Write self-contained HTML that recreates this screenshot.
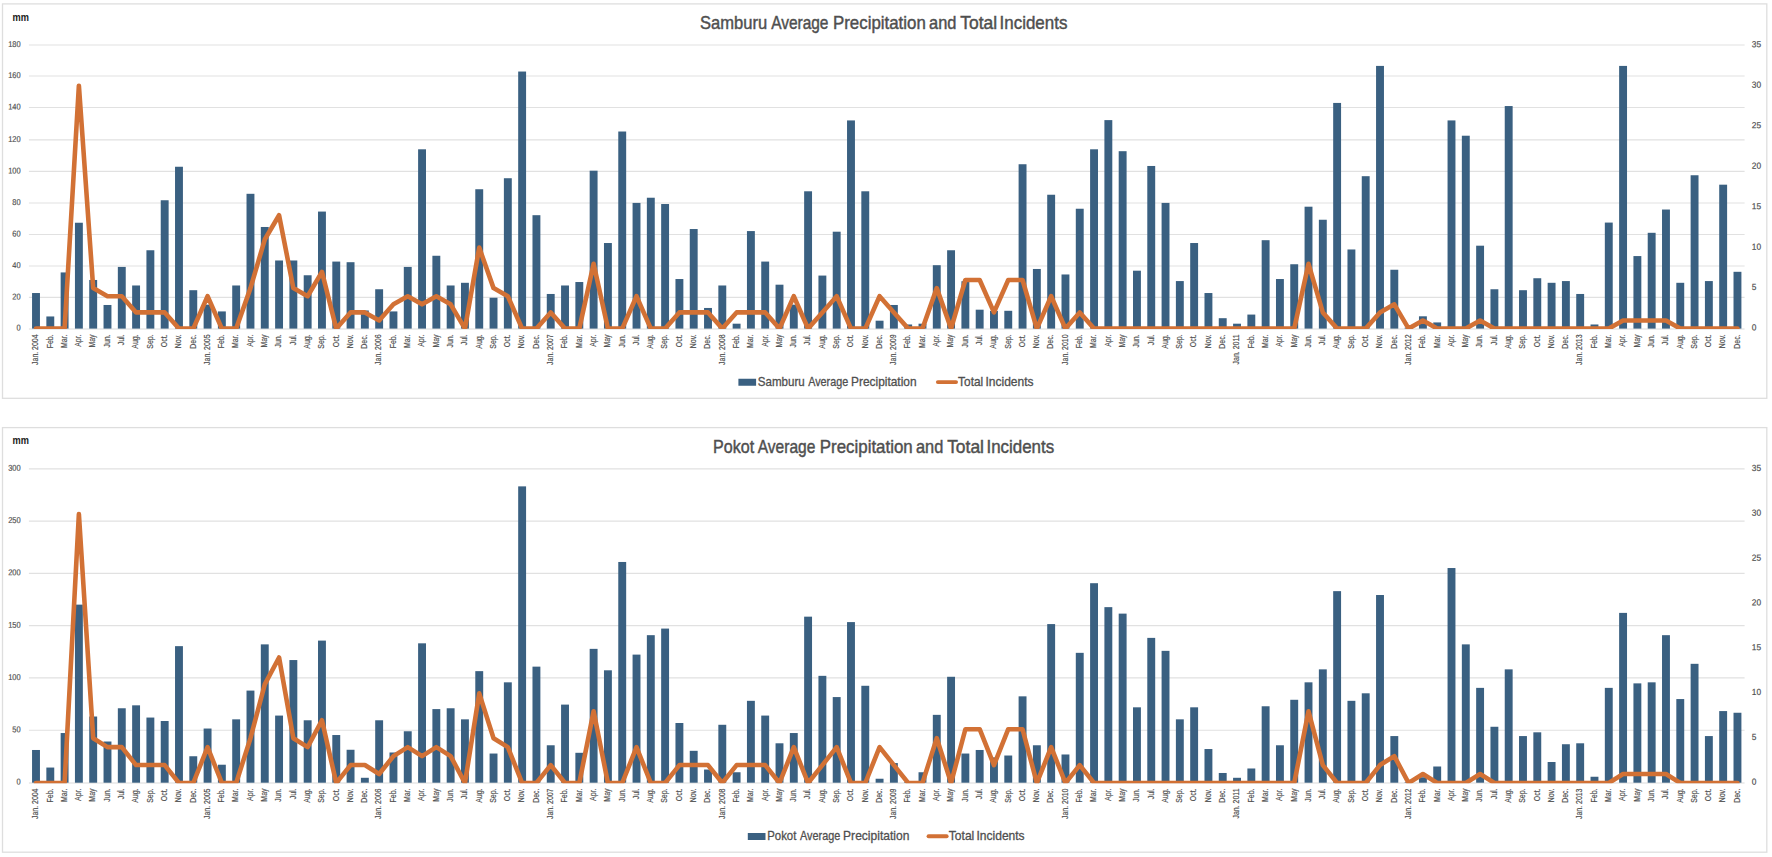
<!DOCTYPE html>
<html lang="en"><head><meta charset="utf-8"><title>Average Precipitation and Total Incidents</title>
<style>
html,body{margin:0;padding:0;background:#fff;}
body{width:1772px;height:857px;overflow:hidden;}
svg{display:block;font-family:"Liberation Sans",Arial,sans-serif;}
.b rect{fill:#3a6081;}
.ax{font-size:8.4px;fill:#4f4f4f;stroke:#4f4f4f;stroke-width:.18px;}
.ar{font-size:8.8px;}
.mm{font-size:10.3px;font-weight:bold;fill:#1a1a1a;}
.title{font-size:18.4px;fill:#4f4f4f;stroke:#4f4f4f;stroke-width:.45px;}
.leg{font-size:12.6px;fill:#4f4f4f;stroke:#4f4f4f;stroke-width:.3px;}
</style></head><body>
<svg width="1772" height="857" viewBox="0 0 1772 857">
<rect x="0" y="0" width="1772" height="857" fill="#fff"/>
<rect x="2.5" y="3.9" width="1764.3" height="394.40000000000003" fill="#fff" stroke="#dedede" stroke-width="1.3"/>
<line x1="28.9" x2="1744.6" y1="329.00" y2="329.00" stroke="#dcdcdc" stroke-width="1.15"/>
<text transform="translate(20.65,330.50) rotate(0.03) scale(0.89,1)" text-anchor="end" class="ax">0</text>
<line x1="28.9" x2="1744.6" y1="297.40" y2="297.40" stroke="#e1e1e1" stroke-width="1.15"/>
<text transform="translate(20.65,299.40) rotate(0.03) scale(0.89,1)" text-anchor="end" class="ax">20</text>
<line x1="28.9" x2="1744.6" y1="266.00" y2="266.00" stroke="#e1e1e1" stroke-width="1.15"/>
<text transform="translate(20.65,268.00) rotate(0.03) scale(0.89,1)" text-anchor="end" class="ax">40</text>
<line x1="28.9" x2="1744.6" y1="234.50" y2="234.50" stroke="#e1e1e1" stroke-width="1.15"/>
<text transform="translate(20.65,236.50) rotate(0.03) scale(0.89,1)" text-anchor="end" class="ax">60</text>
<line x1="28.9" x2="1744.6" y1="203.00" y2="203.00" stroke="#e1e1e1" stroke-width="1.15"/>
<text transform="translate(20.65,205.00) rotate(0.03) scale(0.89,1)" text-anchor="end" class="ax">80</text>
<line x1="28.9" x2="1744.6" y1="171.40" y2="171.40" stroke="#e1e1e1" stroke-width="1.15"/>
<text transform="translate(20.65,173.40) rotate(0.03) scale(0.89,1)" text-anchor="end" class="ax">100</text>
<line x1="28.9" x2="1744.6" y1="139.90" y2="139.90" stroke="#e1e1e1" stroke-width="1.15"/>
<text transform="translate(20.65,141.90) rotate(0.03) scale(0.89,1)" text-anchor="end" class="ax">120</text>
<line x1="28.9" x2="1744.6" y1="107.50" y2="107.50" stroke="#e1e1e1" stroke-width="1.15"/>
<text transform="translate(20.65,109.50) rotate(0.03) scale(0.89,1)" text-anchor="end" class="ax">140</text>
<line x1="28.9" x2="1744.6" y1="76.00" y2="76.00" stroke="#e1e1e1" stroke-width="1.15"/>
<text transform="translate(20.65,78.00) rotate(0.03) scale(0.89,1)" text-anchor="end" class="ax">160</text>
<line x1="28.9" x2="1744.6" y1="45.00" y2="45.00" stroke="#e1e1e1" stroke-width="1.15"/>
<text transform="translate(20.65,47.00) rotate(0.03) scale(0.89,1)" text-anchor="end" class="ax">180</text>
<text transform="translate(1751.8,330.60) rotate(0.03) scale(0.95,1)" class="ax ar">0</text>
<text transform="translate(1751.8,290.11) rotate(0.03) scale(0.95,1)" class="ax ar">5</text>
<text transform="translate(1751.8,249.63) rotate(0.03) scale(0.95,1)" class="ax ar">10</text>
<text transform="translate(1751.8,209.14) rotate(0.03) scale(0.95,1)" class="ax ar">15</text>
<text transform="translate(1751.8,168.66) rotate(0.03) scale(0.95,1)" class="ax ar">20</text>
<text transform="translate(1751.8,128.17) rotate(0.03) scale(0.95,1)" class="ax ar">25</text>
<text transform="translate(1751.8,87.69) rotate(0.03) scale(0.95,1)" class="ax ar">30</text>
<text transform="translate(1751.8,47.20) rotate(0.03) scale(0.95,1)" class="ax ar">35</text>
<text x="12.6" y="20.60" class="mm" textLength="16.4" lengthAdjust="spacingAndGlyphs">mm</text>
<text y="29.3" class="title"><tspan x="700.02" textLength="67.15" lengthAdjust="spacingAndGlyphs">Samburu</tspan> <tspan x="771.15" textLength="57.32" lengthAdjust="spacingAndGlyphs">Average</tspan> <tspan x="833.00" textLength="92.81" lengthAdjust="spacingAndGlyphs">Precipitation</tspan> <tspan x="929.09" textLength="27.38" lengthAdjust="spacingAndGlyphs">and</tspan> <tspan x="960.30" textLength="36.84" lengthAdjust="spacingAndGlyphs">Total</tspan> <tspan x="999.52" textLength="67.88" lengthAdjust="spacingAndGlyphs">Incidents</tspan></text>
<g class="b">
<rect x="32.05" y="293.03" width="7.9" height="35.57"/>
<rect x="46.35" y="316.46" width="7.9" height="12.14"/>
<rect x="60.65" y="272.43" width="7.9" height="56.17"/>
<rect x="74.94" y="222.74" width="7.9" height="105.86"/>
<rect x="89.24" y="279.97" width="7.9" height="48.63"/>
<rect x="103.54" y="304.98" width="7.9" height="23.62"/>
<rect x="117.84" y="266.92" width="7.9" height="61.68"/>
<rect x="132.14" y="285.48" width="7.9" height="43.12"/>
<rect x="146.43" y="250.25" width="7.9" height="78.35"/>
<rect x="160.73" y="200.25" width="7.9" height="128.35"/>
<rect x="175.03" y="166.75" width="7.9" height="161.85"/>
<rect x="189.33" y="290.20" width="7.9" height="38.40"/>
<rect x="203.63" y="304.66" width="7.9" height="23.94"/>
<rect x="217.92" y="311.42" width="7.9" height="17.18"/>
<rect x="232.22" y="285.48" width="7.9" height="43.12"/>
<rect x="246.52" y="193.80" width="7.9" height="134.80"/>
<rect x="260.82" y="226.98" width="7.9" height="101.62"/>
<rect x="275.12" y="260.48" width="7.9" height="68.12"/>
<rect x="289.41" y="260.48" width="7.9" height="68.12"/>
<rect x="303.71" y="275.26" width="7.9" height="53.34"/>
<rect x="318.01" y="211.57" width="7.9" height="117.03"/>
<rect x="332.31" y="261.58" width="7.9" height="67.02"/>
<rect x="346.61" y="262.20" width="7.9" height="66.39"/>
<rect x="360.90" y="310.48" width="7.9" height="18.12"/>
<rect x="375.20" y="289.25" width="7.9" height="39.35"/>
<rect x="389.50" y="311.42" width="7.9" height="17.18"/>
<rect x="403.80" y="266.92" width="7.9" height="61.68"/>
<rect x="418.10" y="149.30" width="7.9" height="179.30"/>
<rect x="432.39" y="255.76" width="7.9" height="72.84"/>
<rect x="446.69" y="285.48" width="7.9" height="43.12"/>
<rect x="460.99" y="282.80" width="7.9" height="45.80"/>
<rect x="475.29" y="189.24" width="7.9" height="139.36"/>
<rect x="489.59" y="297.74" width="7.9" height="30.86"/>
<rect x="503.88" y="178.23" width="7.9" height="150.37"/>
<rect x="518.18" y="71.54" width="7.9" height="257.06"/>
<rect x="532.48" y="215.19" width="7.9" height="113.41"/>
<rect x="546.78" y="293.97" width="7.9" height="34.63"/>
<rect x="561.08" y="285.48" width="7.9" height="43.12"/>
<rect x="575.37" y="282.02" width="7.9" height="46.58"/>
<rect x="589.67" y="170.69" width="7.9" height="157.91"/>
<rect x="603.97" y="243.02" width="7.9" height="85.58"/>
<rect x="618.27" y="131.51" width="7.9" height="197.09"/>
<rect x="632.57" y="202.92" width="7.9" height="125.68"/>
<rect x="646.86" y="197.73" width="7.9" height="130.87"/>
<rect x="661.16" y="204.02" width="7.9" height="124.58"/>
<rect x="675.46" y="279.03" width="7.9" height="49.57"/>
<rect x="689.76" y="229.03" width="7.9" height="99.57"/>
<rect x="704.06" y="307.96" width="7.9" height="20.64"/>
<rect x="718.35" y="285.48" width="7.9" height="43.12"/>
<rect x="732.65" y="323.69" width="7.9" height="4.91"/>
<rect x="746.95" y="231.07" width="7.9" height="97.53"/>
<rect x="761.25" y="261.58" width="7.9" height="67.02"/>
<rect x="775.55" y="284.69" width="7.9" height="43.91"/>
<rect x="789.84" y="304.66" width="7.9" height="23.94"/>
<rect x="804.14" y="191.29" width="7.9" height="137.31"/>
<rect x="818.44" y="275.57" width="7.9" height="53.03"/>
<rect x="832.74" y="231.70" width="7.9" height="96.90"/>
<rect x="847.04" y="120.42" width="7.9" height="208.18"/>
<rect x="861.33" y="191.29" width="7.9" height="137.31"/>
<rect x="875.63" y="320.70" width="7.9" height="7.90"/>
<rect x="889.93" y="304.98" width="7.9" height="23.62"/>
<rect x="904.23" y="324.48" width="7.9" height="4.12"/>
<rect x="918.53" y="323.69" width="7.9" height="4.91"/>
<rect x="932.82" y="265.19" width="7.9" height="63.41"/>
<rect x="947.12" y="250.25" width="7.9" height="78.35"/>
<rect x="961.42" y="281.23" width="7.9" height="47.37"/>
<rect x="975.72" y="309.69" width="7.9" height="18.91"/>
<rect x="990.02" y="310.95" width="7.9" height="17.65"/>
<rect x="1004.31" y="310.80" width="7.9" height="17.80"/>
<rect x="1018.61" y="164.24" width="7.9" height="164.36"/>
<rect x="1032.91" y="268.97" width="7.9" height="59.63"/>
<rect x="1047.21" y="194.74" width="7.9" height="133.86"/>
<rect x="1061.51" y="274.47" width="7.9" height="54.13"/>
<rect x="1075.80" y="208.74" width="7.9" height="119.86"/>
<rect x="1090.10" y="149.30" width="7.9" height="179.30"/>
<rect x="1104.40" y="120.11" width="7.9" height="208.49"/>
<rect x="1118.70" y="151.19" width="7.9" height="177.41"/>
<rect x="1133.00" y="270.70" width="7.9" height="57.90"/>
<rect x="1147.29" y="165.97" width="7.9" height="162.63"/>
<rect x="1161.59" y="202.92" width="7.9" height="125.68"/>
<rect x="1175.89" y="281.07" width="7.9" height="47.52"/>
<rect x="1190.19" y="243.02" width="7.9" height="85.58"/>
<rect x="1204.49" y="293.03" width="7.9" height="35.57"/>
<rect x="1218.78" y="318.19" width="7.9" height="10.41"/>
<rect x="1233.08" y="323.69" width="7.9" height="4.91"/>
<rect x="1247.38" y="314.57" width="7.9" height="14.03"/>
<rect x="1261.68" y="240.19" width="7.9" height="88.41"/>
<rect x="1275.98" y="279.03" width="7.9" height="49.57"/>
<rect x="1290.27" y="264.25" width="7.9" height="64.35"/>
<rect x="1304.57" y="206.70" width="7.9" height="121.90"/>
<rect x="1318.87" y="219.75" width="7.9" height="108.85"/>
<rect x="1333.17" y="102.93" width="7.9" height="225.67"/>
<rect x="1347.47" y="249.47" width="7.9" height="79.13"/>
<rect x="1361.76" y="176.19" width="7.9" height="152.41"/>
<rect x="1376.06" y="65.91" width="7.9" height="262.69"/>
<rect x="1390.36" y="269.75" width="7.9" height="58.85"/>
<rect x="1404.66" y="327.62" width="7.9" height="0.98"/>
<rect x="1418.96" y="316.30" width="7.9" height="12.30"/>
<rect x="1433.25" y="322.43" width="7.9" height="6.17"/>
<rect x="1447.55" y="120.42" width="7.9" height="208.18"/>
<rect x="1461.85" y="135.72" width="7.9" height="192.88"/>
<rect x="1476.15" y="245.69" width="7.9" height="82.91"/>
<rect x="1490.45" y="289.25" width="7.9" height="39.35"/>
<rect x="1504.74" y="106.05" width="7.9" height="222.55"/>
<rect x="1519.04" y="290.20" width="7.9" height="38.40"/>
<rect x="1533.34" y="278.24" width="7.9" height="50.36"/>
<rect x="1547.64" y="282.80" width="7.9" height="45.80"/>
<rect x="1561.94" y="281.07" width="7.9" height="47.52"/>
<rect x="1576.23" y="293.97" width="7.9" height="34.63"/>
<rect x="1590.53" y="324.48" width="7.9" height="4.12"/>
<rect x="1604.83" y="222.58" width="7.9" height="106.02"/>
<rect x="1619.13" y="65.91" width="7.9" height="262.69"/>
<rect x="1633.43" y="256.07" width="7.9" height="72.53"/>
<rect x="1647.72" y="232.80" width="7.9" height="95.80"/>
<rect x="1662.02" y="209.53" width="7.9" height="119.07"/>
<rect x="1676.32" y="282.80" width="7.9" height="45.80"/>
<rect x="1690.62" y="175.25" width="7.9" height="153.35"/>
<rect x="1704.92" y="281.07" width="7.9" height="47.52"/>
<rect x="1719.21" y="184.68" width="7.9" height="143.92"/>
<rect x="1733.51" y="271.80" width="7.9" height="56.80"/>
</g>
<clipPath id="c3"><rect x="0" y="3.9" width="1772" height="325.00"/></clipPath>
<polyline clip-path="url(#c3)" points="36.00,328.60 50.30,328.60 64.60,328.60 78.89,85.69 93.19,288.11 107.49,296.21 121.79,296.21 136.09,312.41 150.38,312.41 164.68,312.41 178.98,328.60 193.28,328.60 207.58,296.21 221.87,328.60 236.17,328.60 250.47,288.11 264.77,239.53 279.07,215.24 293.36,288.11 307.66,296.21 321.96,271.92 336.26,328.60 350.56,312.41 364.85,312.41 379.15,320.50 393.45,304.31 407.75,296.21 422.05,304.31 436.34,296.21 450.64,304.31 464.94,328.60 479.24,247.63 493.54,288.11 507.83,296.21 522.13,328.60 536.43,328.60 550.73,312.41 565.03,328.60 579.32,328.60 593.62,263.82 607.92,328.60 622.22,328.60 636.52,296.21 650.81,328.60 665.11,328.60 679.41,312.41 693.71,312.41 708.01,312.41 722.30,328.60 736.60,312.41 750.90,312.41 765.20,312.41 779.50,328.60 793.79,296.21 808.09,328.60 822.39,312.41 836.69,296.21 850.99,328.60 865.28,328.60 879.58,296.21 893.88,312.41 908.18,328.60 922.48,328.60 936.77,288.11 951.07,328.60 965.37,280.02 979.67,280.02 993.97,312.41 1008.26,280.02 1022.56,280.02 1036.86,328.60 1051.16,296.21 1065.46,328.60 1079.75,312.41 1094.05,328.60 1108.35,328.60 1122.65,328.60 1136.95,328.60 1151.24,328.60 1165.54,328.60 1179.84,328.60 1194.14,328.60 1208.44,328.60 1222.73,328.60 1237.03,328.60 1251.33,328.60 1265.63,328.60 1279.93,328.60 1294.22,328.60 1308.52,263.82 1322.82,312.41 1337.12,328.60 1351.42,328.60 1365.71,328.60 1380.01,312.41 1394.31,304.31 1408.61,328.60 1422.91,320.50 1437.20,328.60 1451.50,328.60 1465.80,328.60 1480.10,320.50 1494.40,328.60 1508.69,328.60 1522.99,328.60 1537.29,328.60 1551.59,328.60 1565.89,328.60 1580.18,328.60 1594.48,328.60 1608.78,328.60 1623.08,320.50 1637.38,320.50 1651.67,320.50 1665.97,320.50 1680.27,328.60 1694.57,328.60 1708.87,328.60 1723.16,328.60 1737.46,328.60" fill="none" stroke="#d27135" stroke-width="4.6" stroke-linejoin="round" stroke-linecap="round"/>
<text transform="translate(38.30,334.40) rotate(-90) scale(0.83,1)" text-anchor="end" class="ax">Jan. 2004</text>
<text transform="translate(52.60,334.40) rotate(-90) scale(0.83,1)" text-anchor="end" class="ax">Feb.</text>
<text transform="translate(66.90,334.40) rotate(-90) scale(0.83,1)" text-anchor="end" class="ax">Mar.</text>
<text transform="translate(81.19,334.40) rotate(-90) scale(0.83,1)" text-anchor="end" class="ax">Apr.</text>
<text transform="translate(95.49,334.40) rotate(-90) scale(0.83,1)" text-anchor="end" class="ax">May</text>
<text transform="translate(109.79,334.40) rotate(-90) scale(0.83,1)" text-anchor="end" class="ax">Jun.</text>
<text transform="translate(124.09,334.40) rotate(-90) scale(0.83,1)" text-anchor="end" class="ax">Jul.</text>
<text transform="translate(138.39,334.40) rotate(-90) scale(0.83,1)" text-anchor="end" class="ax">Aug.</text>
<text transform="translate(152.68,334.40) rotate(-90) scale(0.83,1)" text-anchor="end" class="ax">Sep.</text>
<text transform="translate(166.98,334.40) rotate(-90) scale(0.83,1)" text-anchor="end" class="ax">Oct.</text>
<text transform="translate(181.28,334.40) rotate(-90) scale(0.83,1)" text-anchor="end" class="ax">Nov.</text>
<text transform="translate(195.58,334.40) rotate(-90) scale(0.83,1)" text-anchor="end" class="ax">Dec.</text>
<text transform="translate(209.88,334.40) rotate(-90) scale(0.83,1)" text-anchor="end" class="ax">Jan. 2005</text>
<text transform="translate(224.17,334.40) rotate(-90) scale(0.83,1)" text-anchor="end" class="ax">Feb.</text>
<text transform="translate(238.47,334.40) rotate(-90) scale(0.83,1)" text-anchor="end" class="ax">Mar.</text>
<text transform="translate(252.77,334.40) rotate(-90) scale(0.83,1)" text-anchor="end" class="ax">Apr.</text>
<text transform="translate(267.07,334.40) rotate(-90) scale(0.83,1)" text-anchor="end" class="ax">May</text>
<text transform="translate(281.37,334.40) rotate(-90) scale(0.83,1)" text-anchor="end" class="ax">Jun.</text>
<text transform="translate(295.66,334.40) rotate(-90) scale(0.83,1)" text-anchor="end" class="ax">Jul.</text>
<text transform="translate(309.96,334.40) rotate(-90) scale(0.83,1)" text-anchor="end" class="ax">Aug.</text>
<text transform="translate(324.26,334.40) rotate(-90) scale(0.83,1)" text-anchor="end" class="ax">Sep.</text>
<text transform="translate(338.56,334.40) rotate(-90) scale(0.83,1)" text-anchor="end" class="ax">Oct.</text>
<text transform="translate(352.86,334.40) rotate(-90) scale(0.83,1)" text-anchor="end" class="ax">Nov.</text>
<text transform="translate(367.15,334.40) rotate(-90) scale(0.83,1)" text-anchor="end" class="ax">Dec.</text>
<text transform="translate(381.45,334.40) rotate(-90) scale(0.83,1)" text-anchor="end" class="ax">Jan. 2006</text>
<text transform="translate(395.75,334.40) rotate(-90) scale(0.83,1)" text-anchor="end" class="ax">Feb.</text>
<text transform="translate(410.05,334.40) rotate(-90) scale(0.83,1)" text-anchor="end" class="ax">Mar.</text>
<text transform="translate(424.35,334.40) rotate(-90) scale(0.83,1)" text-anchor="end" class="ax">Apr.</text>
<text transform="translate(438.64,334.40) rotate(-90) scale(0.83,1)" text-anchor="end" class="ax">May</text>
<text transform="translate(452.94,334.40) rotate(-90) scale(0.83,1)" text-anchor="end" class="ax">Jun.</text>
<text transform="translate(467.24,334.40) rotate(-90) scale(0.83,1)" text-anchor="end" class="ax">Jul.</text>
<text transform="translate(481.54,334.40) rotate(-90) scale(0.83,1)" text-anchor="end" class="ax">Aug.</text>
<text transform="translate(495.84,334.40) rotate(-90) scale(0.83,1)" text-anchor="end" class="ax">Sep.</text>
<text transform="translate(510.13,334.40) rotate(-90) scale(0.83,1)" text-anchor="end" class="ax">Oct.</text>
<text transform="translate(524.43,334.40) rotate(-90) scale(0.83,1)" text-anchor="end" class="ax">Nov.</text>
<text transform="translate(538.73,334.40) rotate(-90) scale(0.83,1)" text-anchor="end" class="ax">Dec.</text>
<text transform="translate(553.03,334.40) rotate(-90) scale(0.83,1)" text-anchor="end" class="ax">Jan. 2007</text>
<text transform="translate(567.33,334.40) rotate(-90) scale(0.83,1)" text-anchor="end" class="ax">Feb.</text>
<text transform="translate(581.62,334.40) rotate(-90) scale(0.83,1)" text-anchor="end" class="ax">Mar.</text>
<text transform="translate(595.92,334.40) rotate(-90) scale(0.83,1)" text-anchor="end" class="ax">Apr.</text>
<text transform="translate(610.22,334.40) rotate(-90) scale(0.83,1)" text-anchor="end" class="ax">May</text>
<text transform="translate(624.52,334.40) rotate(-90) scale(0.83,1)" text-anchor="end" class="ax">Jun.</text>
<text transform="translate(638.82,334.40) rotate(-90) scale(0.83,1)" text-anchor="end" class="ax">Jul.</text>
<text transform="translate(653.11,334.40) rotate(-90) scale(0.83,1)" text-anchor="end" class="ax">Aug.</text>
<text transform="translate(667.41,334.40) rotate(-90) scale(0.83,1)" text-anchor="end" class="ax">Sep.</text>
<text transform="translate(681.71,334.40) rotate(-90) scale(0.83,1)" text-anchor="end" class="ax">Oct.</text>
<text transform="translate(696.01,334.40) rotate(-90) scale(0.83,1)" text-anchor="end" class="ax">Nov.</text>
<text transform="translate(710.31,334.40) rotate(-90) scale(0.83,1)" text-anchor="end" class="ax">Dec.</text>
<text transform="translate(724.60,334.40) rotate(-90) scale(0.83,1)" text-anchor="end" class="ax">Jan. 2008</text>
<text transform="translate(738.90,334.40) rotate(-90) scale(0.83,1)" text-anchor="end" class="ax">Feb.</text>
<text transform="translate(753.20,334.40) rotate(-90) scale(0.83,1)" text-anchor="end" class="ax">Mar.</text>
<text transform="translate(767.50,334.40) rotate(-90) scale(0.83,1)" text-anchor="end" class="ax">Apr.</text>
<text transform="translate(781.80,334.40) rotate(-90) scale(0.83,1)" text-anchor="end" class="ax">May</text>
<text transform="translate(796.09,334.40) rotate(-90) scale(0.83,1)" text-anchor="end" class="ax">Jun.</text>
<text transform="translate(810.39,334.40) rotate(-90) scale(0.83,1)" text-anchor="end" class="ax">Jul.</text>
<text transform="translate(824.69,334.40) rotate(-90) scale(0.83,1)" text-anchor="end" class="ax">Aug.</text>
<text transform="translate(838.99,334.40) rotate(-90) scale(0.83,1)" text-anchor="end" class="ax">Sep.</text>
<text transform="translate(853.29,334.40) rotate(-90) scale(0.83,1)" text-anchor="end" class="ax">Oct.</text>
<text transform="translate(867.58,334.40) rotate(-90) scale(0.83,1)" text-anchor="end" class="ax">Nov.</text>
<text transform="translate(881.88,334.40) rotate(-90) scale(0.83,1)" text-anchor="end" class="ax">Dec.</text>
<text transform="translate(896.18,334.40) rotate(-90) scale(0.83,1)" text-anchor="end" class="ax">Jan. 2009</text>
<text transform="translate(910.48,334.40) rotate(-90) scale(0.83,1)" text-anchor="end" class="ax">Feb.</text>
<text transform="translate(924.78,334.40) rotate(-90) scale(0.83,1)" text-anchor="end" class="ax">Mar.</text>
<text transform="translate(939.07,334.40) rotate(-90) scale(0.83,1)" text-anchor="end" class="ax">Apr.</text>
<text transform="translate(953.37,334.40) rotate(-90) scale(0.83,1)" text-anchor="end" class="ax">May</text>
<text transform="translate(967.67,334.40) rotate(-90) scale(0.83,1)" text-anchor="end" class="ax">Jun.</text>
<text transform="translate(981.97,334.40) rotate(-90) scale(0.83,1)" text-anchor="end" class="ax">Jul.</text>
<text transform="translate(996.27,334.40) rotate(-90) scale(0.83,1)" text-anchor="end" class="ax">Aug.</text>
<text transform="translate(1010.56,334.40) rotate(-90) scale(0.83,1)" text-anchor="end" class="ax">Sep.</text>
<text transform="translate(1024.86,334.40) rotate(-90) scale(0.83,1)" text-anchor="end" class="ax">Oct.</text>
<text transform="translate(1039.16,334.40) rotate(-90) scale(0.83,1)" text-anchor="end" class="ax">Nov.</text>
<text transform="translate(1053.46,334.40) rotate(-90) scale(0.83,1)" text-anchor="end" class="ax">Dec.</text>
<text transform="translate(1067.76,334.40) rotate(-90) scale(0.83,1)" text-anchor="end" class="ax">Jan. 2010</text>
<text transform="translate(1082.05,334.40) rotate(-90) scale(0.83,1)" text-anchor="end" class="ax">Feb.</text>
<text transform="translate(1096.35,334.40) rotate(-90) scale(0.83,1)" text-anchor="end" class="ax">Mar.</text>
<text transform="translate(1110.65,334.40) rotate(-90) scale(0.83,1)" text-anchor="end" class="ax">Apr.</text>
<text transform="translate(1124.95,334.40) rotate(-90) scale(0.83,1)" text-anchor="end" class="ax">May</text>
<text transform="translate(1139.25,334.40) rotate(-90) scale(0.83,1)" text-anchor="end" class="ax">Jun.</text>
<text transform="translate(1153.54,334.40) rotate(-90) scale(0.83,1)" text-anchor="end" class="ax">Jul.</text>
<text transform="translate(1167.84,334.40) rotate(-90) scale(0.83,1)" text-anchor="end" class="ax">Aug.</text>
<text transform="translate(1182.14,334.40) rotate(-90) scale(0.83,1)" text-anchor="end" class="ax">Sep.</text>
<text transform="translate(1196.44,334.40) rotate(-90) scale(0.83,1)" text-anchor="end" class="ax">Oct.</text>
<text transform="translate(1210.74,334.40) rotate(-90) scale(0.83,1)" text-anchor="end" class="ax">Nov.</text>
<text transform="translate(1225.03,334.40) rotate(-90) scale(0.83,1)" text-anchor="end" class="ax">Dec.</text>
<text transform="translate(1239.33,334.40) rotate(-90) scale(0.83,1)" text-anchor="end" class="ax">Jan. 2011</text>
<text transform="translate(1253.63,334.40) rotate(-90) scale(0.83,1)" text-anchor="end" class="ax">Feb.</text>
<text transform="translate(1267.93,334.40) rotate(-90) scale(0.83,1)" text-anchor="end" class="ax">Mar.</text>
<text transform="translate(1282.23,334.40) rotate(-90) scale(0.83,1)" text-anchor="end" class="ax">Apr.</text>
<text transform="translate(1296.52,334.40) rotate(-90) scale(0.83,1)" text-anchor="end" class="ax">May</text>
<text transform="translate(1310.82,334.40) rotate(-90) scale(0.83,1)" text-anchor="end" class="ax">Jun.</text>
<text transform="translate(1325.12,334.40) rotate(-90) scale(0.83,1)" text-anchor="end" class="ax">Jul.</text>
<text transform="translate(1339.42,334.40) rotate(-90) scale(0.83,1)" text-anchor="end" class="ax">Aug.</text>
<text transform="translate(1353.72,334.40) rotate(-90) scale(0.83,1)" text-anchor="end" class="ax">Sep.</text>
<text transform="translate(1368.01,334.40) rotate(-90) scale(0.83,1)" text-anchor="end" class="ax">Oct.</text>
<text transform="translate(1382.31,334.40) rotate(-90) scale(0.83,1)" text-anchor="end" class="ax">Nov.</text>
<text transform="translate(1396.61,334.40) rotate(-90) scale(0.83,1)" text-anchor="end" class="ax">Dec.</text>
<text transform="translate(1410.91,334.40) rotate(-90) scale(0.83,1)" text-anchor="end" class="ax">Jan. 2012</text>
<text transform="translate(1425.21,334.40) rotate(-90) scale(0.83,1)" text-anchor="end" class="ax">Feb.</text>
<text transform="translate(1439.50,334.40) rotate(-90) scale(0.83,1)" text-anchor="end" class="ax">Mar.</text>
<text transform="translate(1453.80,334.40) rotate(-90) scale(0.83,1)" text-anchor="end" class="ax">Apr.</text>
<text transform="translate(1468.10,334.40) rotate(-90) scale(0.83,1)" text-anchor="end" class="ax">May</text>
<text transform="translate(1482.40,334.40) rotate(-90) scale(0.83,1)" text-anchor="end" class="ax">Jun.</text>
<text transform="translate(1496.70,334.40) rotate(-90) scale(0.83,1)" text-anchor="end" class="ax">Jul.</text>
<text transform="translate(1510.99,334.40) rotate(-90) scale(0.83,1)" text-anchor="end" class="ax">Aug.</text>
<text transform="translate(1525.29,334.40) rotate(-90) scale(0.83,1)" text-anchor="end" class="ax">Sep.</text>
<text transform="translate(1539.59,334.40) rotate(-90) scale(0.83,1)" text-anchor="end" class="ax">Oct.</text>
<text transform="translate(1553.89,334.40) rotate(-90) scale(0.83,1)" text-anchor="end" class="ax">Nov.</text>
<text transform="translate(1568.19,334.40) rotate(-90) scale(0.83,1)" text-anchor="end" class="ax">Dec.</text>
<text transform="translate(1582.48,334.40) rotate(-90) scale(0.83,1)" text-anchor="end" class="ax">Jan. 2013</text>
<text transform="translate(1596.78,334.40) rotate(-90) scale(0.83,1)" text-anchor="end" class="ax">Feb.</text>
<text transform="translate(1611.08,334.40) rotate(-90) scale(0.83,1)" text-anchor="end" class="ax">Mar.</text>
<text transform="translate(1625.38,334.40) rotate(-90) scale(0.83,1)" text-anchor="end" class="ax">Apr.</text>
<text transform="translate(1639.68,334.40) rotate(-90) scale(0.83,1)" text-anchor="end" class="ax">May</text>
<text transform="translate(1653.97,334.40) rotate(-90) scale(0.83,1)" text-anchor="end" class="ax">Jun.</text>
<text transform="translate(1668.27,334.40) rotate(-90) scale(0.83,1)" text-anchor="end" class="ax">Jul.</text>
<text transform="translate(1682.57,334.40) rotate(-90) scale(0.83,1)" text-anchor="end" class="ax">Aug.</text>
<text transform="translate(1696.87,334.40) rotate(-90) scale(0.83,1)" text-anchor="end" class="ax">Sep.</text>
<text transform="translate(1711.17,334.40) rotate(-90) scale(0.83,1)" text-anchor="end" class="ax">Oct.</text>
<text transform="translate(1725.46,334.40) rotate(-90) scale(0.83,1)" text-anchor="end" class="ax">Nov.</text>
<text transform="translate(1739.76,334.40) rotate(-90) scale(0.83,1)" text-anchor="end" class="ax">Dec.</text>
<rect x="738.4" y="378.75" width="17.7" height="7.0" fill="#3a6081"/>
<text y="385.8" class="leg"><tspan x="757.77" textLength="46.96" lengthAdjust="spacingAndGlyphs">Samburu</tspan> <tspan x="808.20" textLength="40.00" lengthAdjust="spacingAndGlyphs">Average</tspan> <tspan x="851.00" textLength="65.55" lengthAdjust="spacingAndGlyphs">Precipitation</tspan></text>
<line x1="937.85" x2="956.05" y1="382.1" y2="382.1" stroke="#d27135" stroke-width="3.9" stroke-linecap="round"/>
<text y="385.8" class="leg"><tspan x="958.11" textLength="25.08" lengthAdjust="spacingAndGlyphs">Total</tspan> <tspan x="985.47" textLength="48.12" lengthAdjust="spacingAndGlyphs">Incidents</tspan></text>
<rect x="2.5" y="427.6" width="1764.3" height="424.6" fill="#fff" stroke="#dedede" stroke-width="1.3"/>
<line x1="28.9" x2="1744.6" y1="783.00" y2="783.00" stroke="#dcdcdc" stroke-width="1.15"/>
<text transform="translate(20.65,784.50) rotate(0.03) scale(0.89,1)" text-anchor="end" class="ax">0</text>
<line x1="28.9" x2="1744.6" y1="730.22" y2="730.22" stroke="#e1e1e1" stroke-width="1.15"/>
<text transform="translate(20.65,732.22) rotate(0.03) scale(0.89,1)" text-anchor="end" class="ax">50</text>
<line x1="28.9" x2="1744.6" y1="677.93" y2="677.93" stroke="#e1e1e1" stroke-width="1.15"/>
<text transform="translate(20.65,679.93) rotate(0.03) scale(0.89,1)" text-anchor="end" class="ax">100</text>
<line x1="28.9" x2="1744.6" y1="625.65" y2="625.65" stroke="#e1e1e1" stroke-width="1.15"/>
<text transform="translate(20.65,627.65) rotate(0.03) scale(0.89,1)" text-anchor="end" class="ax">150</text>
<line x1="28.9" x2="1744.6" y1="573.37" y2="573.37" stroke="#e1e1e1" stroke-width="1.15"/>
<text transform="translate(20.65,575.37) rotate(0.03) scale(0.89,1)" text-anchor="end" class="ax">200</text>
<line x1="28.9" x2="1744.6" y1="521.08" y2="521.08" stroke="#e1e1e1" stroke-width="1.15"/>
<text transform="translate(20.65,523.08) rotate(0.03) scale(0.89,1)" text-anchor="end" class="ax">250</text>
<line x1="28.9" x2="1744.6" y1="468.80" y2="468.80" stroke="#e1e1e1" stroke-width="1.15"/>
<text transform="translate(20.65,470.80) rotate(0.03) scale(0.89,1)" text-anchor="end" class="ax">300</text>
<text transform="translate(1751.8,784.70) rotate(0.03) scale(0.95,1)" class="ax ar">0</text>
<text transform="translate(1751.8,739.89) rotate(0.03) scale(0.95,1)" class="ax ar">5</text>
<text transform="translate(1751.8,695.07) rotate(0.03) scale(0.95,1)" class="ax ar">10</text>
<text transform="translate(1751.8,650.26) rotate(0.03) scale(0.95,1)" class="ax ar">15</text>
<text transform="translate(1751.8,605.44) rotate(0.03) scale(0.95,1)" class="ax ar">20</text>
<text transform="translate(1751.8,560.63) rotate(0.03) scale(0.95,1)" class="ax ar">25</text>
<text transform="translate(1751.8,515.81) rotate(0.03) scale(0.95,1)" class="ax ar">30</text>
<text transform="translate(1751.8,471.00) rotate(0.03) scale(0.95,1)" class="ax ar">35</text>
<text x="12.6" y="444.30" class="mm" textLength="16.4" lengthAdjust="spacingAndGlyphs">mm</text>
<text y="453.0" class="title"><tspan x="713.06" textLength="41.10" lengthAdjust="spacingAndGlyphs">Pokot</tspan> <tspan x="757.75" textLength="57.62" lengthAdjust="spacingAndGlyphs">Average</tspan> <tspan x="819.80" textLength="92.86" lengthAdjust="spacingAndGlyphs">Precipitation</tspan> <tspan x="915.99" textLength="27.33" lengthAdjust="spacingAndGlyphs">and</tspan> <tspan x="947.15" textLength="36.84" lengthAdjust="spacingAndGlyphs">Total</tspan> <tspan x="986.43" textLength="67.77" lengthAdjust="spacingAndGlyphs">Incidents</tspan></text>
<g class="b">
<rect x="32.05" y="749.98" width="7.9" height="32.72"/>
<rect x="46.35" y="767.55" width="7.9" height="15.15"/>
<rect x="60.65" y="733.04" width="7.9" height="49.66"/>
<rect x="74.94" y="604.63" width="7.9" height="178.07"/>
<rect x="89.24" y="716.52" width="7.9" height="66.18"/>
<rect x="103.54" y="741.51" width="7.9" height="41.19"/>
<rect x="117.84" y="708.26" width="7.9" height="74.44"/>
<rect x="132.14" y="705.33" width="7.9" height="77.37"/>
<rect x="146.43" y="717.56" width="7.9" height="65.14"/>
<rect x="160.73" y="721.01" width="7.9" height="61.69"/>
<rect x="175.03" y="646.15" width="7.9" height="136.55"/>
<rect x="189.33" y="756.25" width="7.9" height="26.45"/>
<rect x="203.63" y="728.54" width="7.9" height="54.16"/>
<rect x="217.92" y="764.72" width="7.9" height="17.98"/>
<rect x="232.22" y="719.34" width="7.9" height="63.36"/>
<rect x="246.52" y="690.59" width="7.9" height="92.11"/>
<rect x="260.82" y="644.37" width="7.9" height="138.33"/>
<rect x="275.12" y="715.58" width="7.9" height="67.12"/>
<rect x="289.41" y="660.05" width="7.9" height="122.65"/>
<rect x="303.71" y="720.28" width="7.9" height="62.42"/>
<rect x="318.01" y="640.60" width="7.9" height="142.10"/>
<rect x="332.31" y="735.03" width="7.9" height="47.67"/>
<rect x="346.61" y="749.77" width="7.9" height="32.93"/>
<rect x="360.90" y="777.79" width="7.9" height="4.91"/>
<rect x="375.20" y="720.28" width="7.9" height="62.42"/>
<rect x="389.50" y="752.49" width="7.9" height="30.21"/>
<rect x="403.80" y="731.26" width="7.9" height="51.44"/>
<rect x="418.10" y="643.32" width="7.9" height="139.38"/>
<rect x="432.39" y="709.09" width="7.9" height="73.61"/>
<rect x="446.69" y="708.26" width="7.9" height="74.44"/>
<rect x="460.99" y="719.34" width="7.9" height="63.36"/>
<rect x="475.29" y="671.14" width="7.9" height="111.56"/>
<rect x="489.59" y="753.54" width="7.9" height="29.16"/>
<rect x="503.88" y="682.33" width="7.9" height="100.37"/>
<rect x="518.18" y="486.37" width="7.9" height="296.33"/>
<rect x="532.48" y="666.64" width="7.9" height="116.06"/>
<rect x="546.78" y="745.27" width="7.9" height="37.43"/>
<rect x="561.08" y="704.60" width="7.9" height="78.10"/>
<rect x="575.37" y="752.80" width="7.9" height="29.90"/>
<rect x="589.67" y="648.86" width="7.9" height="133.84"/>
<rect x="603.97" y="670.30" width="7.9" height="112.40"/>
<rect x="618.27" y="561.97" width="7.9" height="220.73"/>
<rect x="632.57" y="654.61" width="7.9" height="128.09"/>
<rect x="646.86" y="635.17" width="7.9" height="147.53"/>
<rect x="661.16" y="628.58" width="7.9" height="154.12"/>
<rect x="675.46" y="723.00" width="7.9" height="59.70"/>
<rect x="689.76" y="750.82" width="7.9" height="31.88"/>
<rect x="704.06" y="769.53" width="7.9" height="13.17"/>
<rect x="718.35" y="724.78" width="7.9" height="57.92"/>
<rect x="732.65" y="772.25" width="7.9" height="10.45"/>
<rect x="746.95" y="700.83" width="7.9" height="81.87"/>
<rect x="761.25" y="715.58" width="7.9" height="67.12"/>
<rect x="775.55" y="743.29" width="7.9" height="39.41"/>
<rect x="789.84" y="733.04" width="7.9" height="49.66"/>
<rect x="804.14" y="616.66" width="7.9" height="166.04"/>
<rect x="818.44" y="675.84" width="7.9" height="106.86"/>
<rect x="832.74" y="697.07" width="7.9" height="85.63"/>
<rect x="847.04" y="622.09" width="7.9" height="160.61"/>
<rect x="861.33" y="685.78" width="7.9" height="96.92"/>
<rect x="875.63" y="778.74" width="7.9" height="3.96"/>
<rect x="889.93" y="763.05" width="7.9" height="19.65"/>
<rect x="904.23" y="781.98" width="7.9" height="0.72"/>
<rect x="918.53" y="772.25" width="7.9" height="10.45"/>
<rect x="932.82" y="714.85" width="7.9" height="67.85"/>
<rect x="947.12" y="676.78" width="7.9" height="105.92"/>
<rect x="961.42" y="753.54" width="7.9" height="29.16"/>
<rect x="975.72" y="749.98" width="7.9" height="32.72"/>
<rect x="990.02" y="757.40" width="7.9" height="25.30"/>
<rect x="1004.31" y="755.52" width="7.9" height="27.18"/>
<rect x="1018.61" y="696.34" width="7.9" height="86.36"/>
<rect x="1032.91" y="745.27" width="7.9" height="37.43"/>
<rect x="1047.21" y="624.08" width="7.9" height="158.62"/>
<rect x="1061.51" y="754.48" width="7.9" height="28.22"/>
<rect x="1075.80" y="652.84" width="7.9" height="129.86"/>
<rect x="1090.10" y="583.20" width="7.9" height="199.50"/>
<rect x="1104.40" y="607.14" width="7.9" height="175.56"/>
<rect x="1118.70" y="613.62" width="7.9" height="169.08"/>
<rect x="1133.00" y="707.32" width="7.9" height="75.38"/>
<rect x="1147.29" y="637.88" width="7.9" height="144.82"/>
<rect x="1161.59" y="650.85" width="7.9" height="131.85"/>
<rect x="1175.89" y="719.34" width="7.9" height="63.36"/>
<rect x="1190.19" y="707.32" width="7.9" height="75.38"/>
<rect x="1204.49" y="749.04" width="7.9" height="33.66"/>
<rect x="1218.78" y="772.98" width="7.9" height="9.72"/>
<rect x="1233.08" y="777.79" width="7.9" height="4.91"/>
<rect x="1247.38" y="768.49" width="7.9" height="14.21"/>
<rect x="1261.68" y="706.27" width="7.9" height="76.43"/>
<rect x="1275.98" y="745.27" width="7.9" height="37.43"/>
<rect x="1290.27" y="699.79" width="7.9" height="82.91"/>
<rect x="1304.57" y="682.33" width="7.9" height="100.37"/>
<rect x="1318.87" y="669.36" width="7.9" height="113.34"/>
<rect x="1333.17" y="591.14" width="7.9" height="191.56"/>
<rect x="1347.47" y="700.83" width="7.9" height="81.87"/>
<rect x="1361.76" y="693.30" width="7.9" height="89.40"/>
<rect x="1376.06" y="595.01" width="7.9" height="187.69"/>
<rect x="1390.36" y="736.07" width="7.9" height="46.63"/>
<rect x="1404.66" y="782.08" width="7.9" height="0.62"/>
<rect x="1418.96" y="777.27" width="7.9" height="5.43"/>
<rect x="1433.25" y="766.50" width="7.9" height="16.20"/>
<rect x="1447.55" y="568.03" width="7.9" height="214.67"/>
<rect x="1461.85" y="644.37" width="7.9" height="138.33"/>
<rect x="1476.15" y="687.87" width="7.9" height="94.83"/>
<rect x="1490.45" y="726.77" width="7.9" height="55.93"/>
<rect x="1504.74" y="669.36" width="7.9" height="113.34"/>
<rect x="1519.04" y="736.07" width="7.9" height="46.63"/>
<rect x="1533.34" y="732.31" width="7.9" height="50.39"/>
<rect x="1547.64" y="762.00" width="7.9" height="20.70"/>
<rect x="1561.94" y="744.23" width="7.9" height="38.47"/>
<rect x="1576.23" y="743.29" width="7.9" height="39.41"/>
<rect x="1590.53" y="776.75" width="7.9" height="5.95"/>
<rect x="1604.83" y="687.87" width="7.9" height="94.83"/>
<rect x="1619.13" y="612.89" width="7.9" height="169.81"/>
<rect x="1633.43" y="683.37" width="7.9" height="99.33"/>
<rect x="1647.72" y="682.33" width="7.9" height="100.37"/>
<rect x="1662.02" y="635.17" width="7.9" height="147.53"/>
<rect x="1676.32" y="699.06" width="7.9" height="83.64"/>
<rect x="1690.62" y="663.82" width="7.9" height="118.88"/>
<rect x="1704.92" y="736.07" width="7.9" height="46.63"/>
<rect x="1719.21" y="711.08" width="7.9" height="71.62"/>
<rect x="1733.51" y="712.75" width="7.9" height="69.95"/>
</g>
<clipPath id="c427"><rect x="0" y="427.6" width="1772" height="355.70"/></clipPath>
<polyline clip-path="url(#c427)" points="36.00,783.00 50.30,783.00 64.60,783.00 78.89,514.11 93.19,738.19 107.49,747.15 121.79,747.15 136.09,765.07 150.38,765.07 164.68,765.07 178.98,783.00 193.28,783.00 207.58,747.15 221.87,783.00 236.17,783.00 250.47,738.19 264.77,684.41 279.07,657.52 293.36,738.19 307.66,747.15 321.96,720.26 336.26,783.00 350.56,765.07 364.85,765.07 379.15,774.04 393.45,756.11 407.75,747.15 422.05,756.11 436.34,747.15 450.64,756.11 464.94,783.00 479.24,693.37 493.54,738.19 507.83,747.15 522.13,783.00 536.43,783.00 550.73,765.07 565.03,783.00 579.32,783.00 593.62,711.30 607.92,783.00 622.22,783.00 636.52,747.15 650.81,783.00 665.11,783.00 679.41,765.07 693.71,765.07 708.01,765.07 722.30,783.00 736.60,765.07 750.90,765.07 765.20,765.07 779.50,783.00 793.79,747.15 808.09,783.00 822.39,765.07 836.69,747.15 850.99,783.00 865.28,783.00 879.58,747.15 893.88,765.07 908.18,783.00 922.48,783.00 936.77,738.19 951.07,783.00 965.37,729.22 979.67,729.22 993.97,765.07 1008.26,729.22 1022.56,729.22 1036.86,783.00 1051.16,747.15 1065.46,783.00 1079.75,765.07 1094.05,783.00 1108.35,783.00 1122.65,783.00 1136.95,783.00 1151.24,783.00 1165.54,783.00 1179.84,783.00 1194.14,783.00 1208.44,783.00 1222.73,783.00 1237.03,783.00 1251.33,783.00 1265.63,783.00 1279.93,783.00 1294.22,783.00 1308.52,711.30 1322.82,765.07 1337.12,783.00 1351.42,783.00 1365.71,783.00 1380.01,765.07 1394.31,756.11 1408.61,783.00 1422.91,774.04 1437.20,783.00 1451.50,783.00 1465.80,783.00 1480.10,774.04 1494.40,783.00 1508.69,783.00 1522.99,783.00 1537.29,783.00 1551.59,783.00 1565.89,783.00 1580.18,783.00 1594.48,783.00 1608.78,783.00 1623.08,774.04 1637.38,774.04 1651.67,774.04 1665.97,774.04 1680.27,783.00 1694.57,783.00 1708.87,783.00 1723.16,783.00 1737.46,783.00" fill="none" stroke="#d27135" stroke-width="4.6" stroke-linejoin="round" stroke-linecap="round"/>
<text transform="translate(38.30,788.50) rotate(-90) scale(0.83,1)" text-anchor="end" class="ax">Jan. 2004</text>
<text transform="translate(52.60,788.50) rotate(-90) scale(0.83,1)" text-anchor="end" class="ax">Feb.</text>
<text transform="translate(66.90,788.50) rotate(-90) scale(0.83,1)" text-anchor="end" class="ax">Mar.</text>
<text transform="translate(81.19,788.50) rotate(-90) scale(0.83,1)" text-anchor="end" class="ax">Apr.</text>
<text transform="translate(95.49,788.50) rotate(-90) scale(0.83,1)" text-anchor="end" class="ax">May</text>
<text transform="translate(109.79,788.50) rotate(-90) scale(0.83,1)" text-anchor="end" class="ax">Jun.</text>
<text transform="translate(124.09,788.50) rotate(-90) scale(0.83,1)" text-anchor="end" class="ax">Jul.</text>
<text transform="translate(138.39,788.50) rotate(-90) scale(0.83,1)" text-anchor="end" class="ax">Aug.</text>
<text transform="translate(152.68,788.50) rotate(-90) scale(0.83,1)" text-anchor="end" class="ax">Sep.</text>
<text transform="translate(166.98,788.50) rotate(-90) scale(0.83,1)" text-anchor="end" class="ax">Oct.</text>
<text transform="translate(181.28,788.50) rotate(-90) scale(0.83,1)" text-anchor="end" class="ax">Nov.</text>
<text transform="translate(195.58,788.50) rotate(-90) scale(0.83,1)" text-anchor="end" class="ax">Dec.</text>
<text transform="translate(209.88,788.50) rotate(-90) scale(0.83,1)" text-anchor="end" class="ax">Jan. 2005</text>
<text transform="translate(224.17,788.50) rotate(-90) scale(0.83,1)" text-anchor="end" class="ax">Feb.</text>
<text transform="translate(238.47,788.50) rotate(-90) scale(0.83,1)" text-anchor="end" class="ax">Mar.</text>
<text transform="translate(252.77,788.50) rotate(-90) scale(0.83,1)" text-anchor="end" class="ax">Apr.</text>
<text transform="translate(267.07,788.50) rotate(-90) scale(0.83,1)" text-anchor="end" class="ax">May</text>
<text transform="translate(281.37,788.50) rotate(-90) scale(0.83,1)" text-anchor="end" class="ax">Jun.</text>
<text transform="translate(295.66,788.50) rotate(-90) scale(0.83,1)" text-anchor="end" class="ax">Jul.</text>
<text transform="translate(309.96,788.50) rotate(-90) scale(0.83,1)" text-anchor="end" class="ax">Aug.</text>
<text transform="translate(324.26,788.50) rotate(-90) scale(0.83,1)" text-anchor="end" class="ax">Sep.</text>
<text transform="translate(338.56,788.50) rotate(-90) scale(0.83,1)" text-anchor="end" class="ax">Oct.</text>
<text transform="translate(352.86,788.50) rotate(-90) scale(0.83,1)" text-anchor="end" class="ax">Nov.</text>
<text transform="translate(367.15,788.50) rotate(-90) scale(0.83,1)" text-anchor="end" class="ax">Dec.</text>
<text transform="translate(381.45,788.50) rotate(-90) scale(0.83,1)" text-anchor="end" class="ax">Jan. 2006</text>
<text transform="translate(395.75,788.50) rotate(-90) scale(0.83,1)" text-anchor="end" class="ax">Feb.</text>
<text transform="translate(410.05,788.50) rotate(-90) scale(0.83,1)" text-anchor="end" class="ax">Mar.</text>
<text transform="translate(424.35,788.50) rotate(-90) scale(0.83,1)" text-anchor="end" class="ax">Apr.</text>
<text transform="translate(438.64,788.50) rotate(-90) scale(0.83,1)" text-anchor="end" class="ax">May</text>
<text transform="translate(452.94,788.50) rotate(-90) scale(0.83,1)" text-anchor="end" class="ax">Jun.</text>
<text transform="translate(467.24,788.50) rotate(-90) scale(0.83,1)" text-anchor="end" class="ax">Jul.</text>
<text transform="translate(481.54,788.50) rotate(-90) scale(0.83,1)" text-anchor="end" class="ax">Aug.</text>
<text transform="translate(495.84,788.50) rotate(-90) scale(0.83,1)" text-anchor="end" class="ax">Sep.</text>
<text transform="translate(510.13,788.50) rotate(-90) scale(0.83,1)" text-anchor="end" class="ax">Oct.</text>
<text transform="translate(524.43,788.50) rotate(-90) scale(0.83,1)" text-anchor="end" class="ax">Nov.</text>
<text transform="translate(538.73,788.50) rotate(-90) scale(0.83,1)" text-anchor="end" class="ax">Dec.</text>
<text transform="translate(553.03,788.50) rotate(-90) scale(0.83,1)" text-anchor="end" class="ax">Jan. 2007</text>
<text transform="translate(567.33,788.50) rotate(-90) scale(0.83,1)" text-anchor="end" class="ax">Feb.</text>
<text transform="translate(581.62,788.50) rotate(-90) scale(0.83,1)" text-anchor="end" class="ax">Mar.</text>
<text transform="translate(595.92,788.50) rotate(-90) scale(0.83,1)" text-anchor="end" class="ax">Apr.</text>
<text transform="translate(610.22,788.50) rotate(-90) scale(0.83,1)" text-anchor="end" class="ax">May</text>
<text transform="translate(624.52,788.50) rotate(-90) scale(0.83,1)" text-anchor="end" class="ax">Jun.</text>
<text transform="translate(638.82,788.50) rotate(-90) scale(0.83,1)" text-anchor="end" class="ax">Jul.</text>
<text transform="translate(653.11,788.50) rotate(-90) scale(0.83,1)" text-anchor="end" class="ax">Aug.</text>
<text transform="translate(667.41,788.50) rotate(-90) scale(0.83,1)" text-anchor="end" class="ax">Sep.</text>
<text transform="translate(681.71,788.50) rotate(-90) scale(0.83,1)" text-anchor="end" class="ax">Oct.</text>
<text transform="translate(696.01,788.50) rotate(-90) scale(0.83,1)" text-anchor="end" class="ax">Nov.</text>
<text transform="translate(710.31,788.50) rotate(-90) scale(0.83,1)" text-anchor="end" class="ax">Dec.</text>
<text transform="translate(724.60,788.50) rotate(-90) scale(0.83,1)" text-anchor="end" class="ax">Jan. 2008</text>
<text transform="translate(738.90,788.50) rotate(-90) scale(0.83,1)" text-anchor="end" class="ax">Feb.</text>
<text transform="translate(753.20,788.50) rotate(-90) scale(0.83,1)" text-anchor="end" class="ax">Mar.</text>
<text transform="translate(767.50,788.50) rotate(-90) scale(0.83,1)" text-anchor="end" class="ax">Apr.</text>
<text transform="translate(781.80,788.50) rotate(-90) scale(0.83,1)" text-anchor="end" class="ax">May</text>
<text transform="translate(796.09,788.50) rotate(-90) scale(0.83,1)" text-anchor="end" class="ax">Jun.</text>
<text transform="translate(810.39,788.50) rotate(-90) scale(0.83,1)" text-anchor="end" class="ax">Jul.</text>
<text transform="translate(824.69,788.50) rotate(-90) scale(0.83,1)" text-anchor="end" class="ax">Aug.</text>
<text transform="translate(838.99,788.50) rotate(-90) scale(0.83,1)" text-anchor="end" class="ax">Sep.</text>
<text transform="translate(853.29,788.50) rotate(-90) scale(0.83,1)" text-anchor="end" class="ax">Oct.</text>
<text transform="translate(867.58,788.50) rotate(-90) scale(0.83,1)" text-anchor="end" class="ax">Nov.</text>
<text transform="translate(881.88,788.50) rotate(-90) scale(0.83,1)" text-anchor="end" class="ax">Dec.</text>
<text transform="translate(896.18,788.50) rotate(-90) scale(0.83,1)" text-anchor="end" class="ax">Jan. 2009</text>
<text transform="translate(910.48,788.50) rotate(-90) scale(0.83,1)" text-anchor="end" class="ax">Feb.</text>
<text transform="translate(924.78,788.50) rotate(-90) scale(0.83,1)" text-anchor="end" class="ax">Mar.</text>
<text transform="translate(939.07,788.50) rotate(-90) scale(0.83,1)" text-anchor="end" class="ax">Apr.</text>
<text transform="translate(953.37,788.50) rotate(-90) scale(0.83,1)" text-anchor="end" class="ax">May</text>
<text transform="translate(967.67,788.50) rotate(-90) scale(0.83,1)" text-anchor="end" class="ax">Jun.</text>
<text transform="translate(981.97,788.50) rotate(-90) scale(0.83,1)" text-anchor="end" class="ax">Jul.</text>
<text transform="translate(996.27,788.50) rotate(-90) scale(0.83,1)" text-anchor="end" class="ax">Aug.</text>
<text transform="translate(1010.56,788.50) rotate(-90) scale(0.83,1)" text-anchor="end" class="ax">Sep.</text>
<text transform="translate(1024.86,788.50) rotate(-90) scale(0.83,1)" text-anchor="end" class="ax">Oct.</text>
<text transform="translate(1039.16,788.50) rotate(-90) scale(0.83,1)" text-anchor="end" class="ax">Nov.</text>
<text transform="translate(1053.46,788.50) rotate(-90) scale(0.83,1)" text-anchor="end" class="ax">Dec.</text>
<text transform="translate(1067.76,788.50) rotate(-90) scale(0.83,1)" text-anchor="end" class="ax">Jan. 2010</text>
<text transform="translate(1082.05,788.50) rotate(-90) scale(0.83,1)" text-anchor="end" class="ax">Feb.</text>
<text transform="translate(1096.35,788.50) rotate(-90) scale(0.83,1)" text-anchor="end" class="ax">Mar.</text>
<text transform="translate(1110.65,788.50) rotate(-90) scale(0.83,1)" text-anchor="end" class="ax">Apr.</text>
<text transform="translate(1124.95,788.50) rotate(-90) scale(0.83,1)" text-anchor="end" class="ax">May</text>
<text transform="translate(1139.25,788.50) rotate(-90) scale(0.83,1)" text-anchor="end" class="ax">Jun.</text>
<text transform="translate(1153.54,788.50) rotate(-90) scale(0.83,1)" text-anchor="end" class="ax">Jul.</text>
<text transform="translate(1167.84,788.50) rotate(-90) scale(0.83,1)" text-anchor="end" class="ax">Aug.</text>
<text transform="translate(1182.14,788.50) rotate(-90) scale(0.83,1)" text-anchor="end" class="ax">Sep.</text>
<text transform="translate(1196.44,788.50) rotate(-90) scale(0.83,1)" text-anchor="end" class="ax">Oct.</text>
<text transform="translate(1210.74,788.50) rotate(-90) scale(0.83,1)" text-anchor="end" class="ax">Nov.</text>
<text transform="translate(1225.03,788.50) rotate(-90) scale(0.83,1)" text-anchor="end" class="ax">Dec.</text>
<text transform="translate(1239.33,788.50) rotate(-90) scale(0.83,1)" text-anchor="end" class="ax">Jan. 2011</text>
<text transform="translate(1253.63,788.50) rotate(-90) scale(0.83,1)" text-anchor="end" class="ax">Feb.</text>
<text transform="translate(1267.93,788.50) rotate(-90) scale(0.83,1)" text-anchor="end" class="ax">Mar.</text>
<text transform="translate(1282.23,788.50) rotate(-90) scale(0.83,1)" text-anchor="end" class="ax">Apr.</text>
<text transform="translate(1296.52,788.50) rotate(-90) scale(0.83,1)" text-anchor="end" class="ax">May</text>
<text transform="translate(1310.82,788.50) rotate(-90) scale(0.83,1)" text-anchor="end" class="ax">Jun.</text>
<text transform="translate(1325.12,788.50) rotate(-90) scale(0.83,1)" text-anchor="end" class="ax">Jul.</text>
<text transform="translate(1339.42,788.50) rotate(-90) scale(0.83,1)" text-anchor="end" class="ax">Aug.</text>
<text transform="translate(1353.72,788.50) rotate(-90) scale(0.83,1)" text-anchor="end" class="ax">Sep.</text>
<text transform="translate(1368.01,788.50) rotate(-90) scale(0.83,1)" text-anchor="end" class="ax">Oct.</text>
<text transform="translate(1382.31,788.50) rotate(-90) scale(0.83,1)" text-anchor="end" class="ax">Nov.</text>
<text transform="translate(1396.61,788.50) rotate(-90) scale(0.83,1)" text-anchor="end" class="ax">Dec.</text>
<text transform="translate(1410.91,788.50) rotate(-90) scale(0.83,1)" text-anchor="end" class="ax">Jan. 2012</text>
<text transform="translate(1425.21,788.50) rotate(-90) scale(0.83,1)" text-anchor="end" class="ax">Feb.</text>
<text transform="translate(1439.50,788.50) rotate(-90) scale(0.83,1)" text-anchor="end" class="ax">Mar.</text>
<text transform="translate(1453.80,788.50) rotate(-90) scale(0.83,1)" text-anchor="end" class="ax">Apr.</text>
<text transform="translate(1468.10,788.50) rotate(-90) scale(0.83,1)" text-anchor="end" class="ax">May</text>
<text transform="translate(1482.40,788.50) rotate(-90) scale(0.83,1)" text-anchor="end" class="ax">Jun.</text>
<text transform="translate(1496.70,788.50) rotate(-90) scale(0.83,1)" text-anchor="end" class="ax">Jul.</text>
<text transform="translate(1510.99,788.50) rotate(-90) scale(0.83,1)" text-anchor="end" class="ax">Aug.</text>
<text transform="translate(1525.29,788.50) rotate(-90) scale(0.83,1)" text-anchor="end" class="ax">Sep.</text>
<text transform="translate(1539.59,788.50) rotate(-90) scale(0.83,1)" text-anchor="end" class="ax">Oct.</text>
<text transform="translate(1553.89,788.50) rotate(-90) scale(0.83,1)" text-anchor="end" class="ax">Nov.</text>
<text transform="translate(1568.19,788.50) rotate(-90) scale(0.83,1)" text-anchor="end" class="ax">Dec.</text>
<text transform="translate(1582.48,788.50) rotate(-90) scale(0.83,1)" text-anchor="end" class="ax">Jan. 2013</text>
<text transform="translate(1596.78,788.50) rotate(-90) scale(0.83,1)" text-anchor="end" class="ax">Feb.</text>
<text transform="translate(1611.08,788.50) rotate(-90) scale(0.83,1)" text-anchor="end" class="ax">Mar.</text>
<text transform="translate(1625.38,788.50) rotate(-90) scale(0.83,1)" text-anchor="end" class="ax">Apr.</text>
<text transform="translate(1639.68,788.50) rotate(-90) scale(0.83,1)" text-anchor="end" class="ax">May</text>
<text transform="translate(1653.97,788.50) rotate(-90) scale(0.83,1)" text-anchor="end" class="ax">Jun.</text>
<text transform="translate(1668.27,788.50) rotate(-90) scale(0.83,1)" text-anchor="end" class="ax">Jul.</text>
<text transform="translate(1682.57,788.50) rotate(-90) scale(0.83,1)" text-anchor="end" class="ax">Aug.</text>
<text transform="translate(1696.87,788.50) rotate(-90) scale(0.83,1)" text-anchor="end" class="ax">Sep.</text>
<text transform="translate(1711.17,788.50) rotate(-90) scale(0.83,1)" text-anchor="end" class="ax">Oct.</text>
<text transform="translate(1725.46,788.50) rotate(-90) scale(0.83,1)" text-anchor="end" class="ax">Nov.</text>
<text transform="translate(1739.76,788.50) rotate(-90) scale(0.83,1)" text-anchor="end" class="ax">Dec.</text>
<rect x="747.8" y="833.0" width="17.7" height="7.0" fill="#3a6081"/>
<text y="839.9" class="leg"><tspan x="767.24" textLength="29.09" lengthAdjust="spacingAndGlyphs">Pokot</tspan> <tspan x="800.05" textLength="40.21" lengthAdjust="spacingAndGlyphs">Average</tspan> <tspan x="843.09" textLength="66.32" lengthAdjust="spacingAndGlyphs">Precipitation</tspan></text>
<line x1="928.5500000000001" x2="946.65" y1="836.3" y2="836.3" stroke="#d27135" stroke-width="3.9" stroke-linecap="round"/>
<text y="839.9" class="leg"><tspan x="948.81" textLength="25.49" lengthAdjust="spacingAndGlyphs">Total</tspan> <tspan x="976.47" textLength="48.17" lengthAdjust="spacingAndGlyphs">Incidents</tspan></text>
</svg></body></html>
